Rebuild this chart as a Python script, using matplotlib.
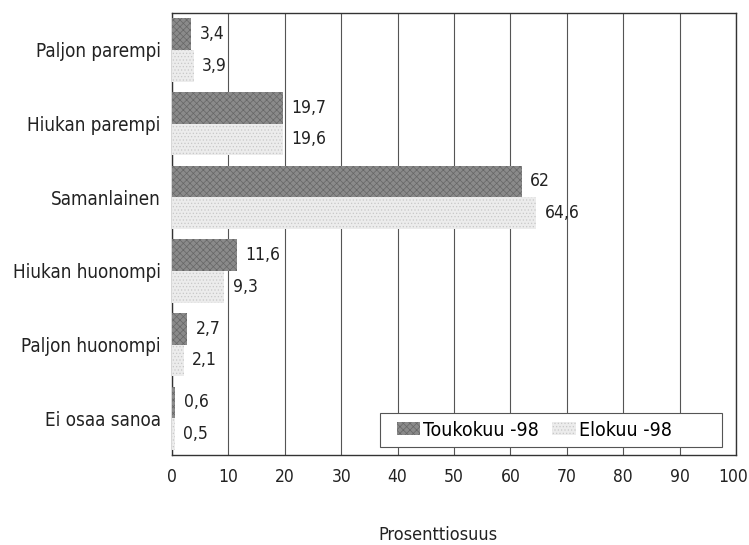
import numpy as np
import matplotlib.pyplot as plt
from matplotlib.patches import Rectangle
from matplotlib.transforms import ScaledTranslation

categories = ['Paljon parempi', 'Hiukan parempi', 'Samanlainen',
              'Hiukan huonompi', 'Paljon huonompi', 'Ei osaa sanoa']
toukokuu = [3.4, 19.7, 62, 11.6, 2.7, 0.6]
elokuu = [3.9, 19.6, 64.6, 9.3, 2.1, 0.5]
series_names = ['Toukokuu -98', 'Elokuu -98']
xticks = list(range(0, 101, 10))

plt.rcParams['font.family'] = ['DejaVu Sans']
plt.rcParams['font.stretch'] = 'condensed'
plt.rcParams['hatch.linewidth'] = 0.5

fig = plt.figure(figsize=(7.49, 5.45), dpi=100)
ax = fig.add_axes([0.2296, 0.165, 0.7531, 0.811])

y = np.arange(len(categories))
h = 0.43
b1 = ax.barh(y - h / 2, toukokuu, height=h, color='#8a8a8a', hatch='xxxxx',
             edgecolor='#666666', linewidth=0, label=series_names[0], zorder=3)
b2 = ax.barh(y + h / 2, elokuu, height=h, color='#ececec', hatch='.....',
             edgecolor='#c8c8c8', linewidth=0, label=series_names[1], zorder=3)

def fmt(v):
    return ('%g' % v).replace('.', ',')

for bars, vals in ((b1, toukokuu), (b2, elokuu)):
    for bar, v in zip(bars, vals):
        ax.annotate(fmt(v), (v, bar.get_y() + bar.get_height() / 2),
                    xytext=(6, 0), textcoords='offset points',
                    va='center', ha='left', fontsize=12.5, color='#222222')

ax.set_xlim(0, 100)
ax.set_ylim(len(categories) - 0.5, -0.5)
ax.set_xticks(xticks)
ax.set_xticklabels([str(t) for t in xticks], fontsize=12.5, color='#222222')
ax.set_yticks(y)
ax.set_yticklabels(categories, fontsize=13.5, color='#222222')
ax.tick_params(axis='y', length=0, pad=8)
ax.tick_params(axis='x', length=0, pad=9)
ax.grid(axis='x', color='#555555', linewidth=0.8, zorder=1)
for s in ax.spines.values():
    s.set_color('#333333')
    s.set_linewidth(1.0)

# keep "100" inside the figure edge
last = ax.get_xticklabels()[-1]
last.set_transform(last.get_transform() + ScaledTranslation(-3 / 100, 0, fig.dpi_scale_trans))

fig.text(438 / 749, 1 - 535 / 545, 'Prosenttiosuus', fontsize=13,
         color='#222222', ha='center', va='center')

# legend box spans wider than its entries, as in the reference
ax.add_patch(Rectangle((0.369, 0.018), 0.606, 0.077, transform=ax.transAxes,
                       facecolor='white', edgecolor='#555555', linewidth=0.8,
                       zorder=4))
leg = ax.legend(ncol=2, loc='center left', bbox_to_anchor=(0.369, 0.0565),
                borderaxespad=0, fontsize=14, frameon=False,
                handlelength=1.2, handleheight=0.62, handletextpad=0.15,
                columnspacing=0.7, borderpad=0.85)
leg.set_zorder(5)

fig.savefig('out.png', dpi=100)
